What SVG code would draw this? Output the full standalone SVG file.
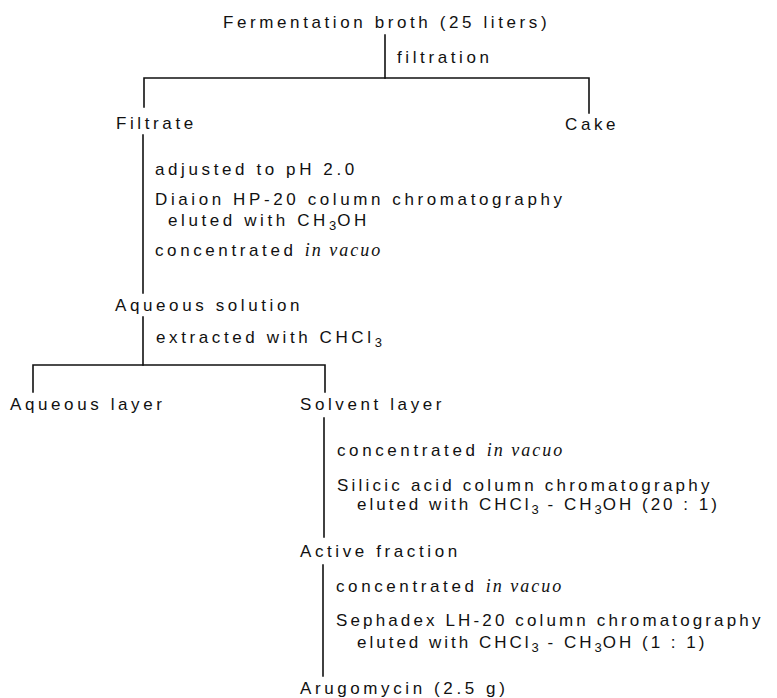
<svg xmlns="http://www.w3.org/2000/svg" width="777" height="698" viewBox="0 0 777 698">
<style>
  .t { font-family: "Liberation Sans", Arial, sans-serif; font-size: 17px; letter-spacing: 3.6px; fill: #111; }
  .nar { letter-spacing: 3px; }
  .it { font-family: "Liberation Serif", "Times New Roman", serif; font-style: italic; font-size: 18px; letter-spacing: 2px; }
  .sub { font-size: 13px; letter-spacing: 1px; }
  .ln { stroke: #111; stroke-width: 1.6; fill: none; stroke-linecap: square; }
</style>
<rect width="777" height="698" fill="#fff"/>

<g id="connectors">
  <path class="ln" d="M385 35 V78"/>
  <path class="ln" d="M144 107 V78 H589 V113"/>
  <path class="ln" d="M143 135 V293"/>
  <path class="ln" d="M143 317 V365"/>
  <path class="ln" d="M33 392 V365 H325 V392"/>
  <path class="ln" d="M324 418 V537"/>
  <path class="ln" d="M323 565 V676"/>
</g>

<g id="step-filtration"><text class="t" x="397" y="63">filtration</text></g>
<g id="step-filtrate">
  <text class="t" x="155" y="175">adjusted to pH 2.0</text>
  <text class="t" x="155" y="205">Diaion HP-20 column chromatography</text>
  <text class="t" x="168" y="226">eluted with CH<tspan class="sub" dy="4">3</tspan><tspan dy="-4">OH</tspan></text>
  <text class="t" x="155" y="256">concentrated <tspan class="it">in vacuo</tspan></text>
</g>
<g id="step-extraction"><text class="t" x="156" y="343">extracted with CHCl<tspan class="sub" dy="4">3</tspan></text></g>
<g id="step-solvent">
  <text class="t" x="337" y="456">concentrated <tspan class="it">in vacuo</tspan></text>
  <text class="t" x="337" y="491" textLength="376" lengthAdjust="spacing">Silicic acid column chromatography</text>
  <text class="t nar" x="357" y="510">eluted with CHCl<tspan class="sub" dy="4">3</tspan><tspan dy="-4"> - CH</tspan><tspan class="sub" dy="4">3</tspan><tspan dy="-4">OH (20 : 1)</tspan></text>
</g>
<g id="step-active">
  <text class="t" x="336" y="592">concentrated <tspan class="it">in vacuo</tspan></text>
  <text class="t" x="336" y="626" textLength="428" lengthAdjust="spacing">Sephadex LH-20 column chromatography</text>
  <text class="t nar" x="357" y="648">eluted with CHCl<tspan class="sub" dy="4">3</tspan><tspan dy="-4"> - CH</tspan><tspan class="sub" dy="4">3</tspan><tspan dy="-4">OH (1 : 1)</tspan></text>
</g>

<g id="node-broth"><text class="t" x="223" y="28">Fermentation broth (25 liters)</text></g>
<g id="node-filtrate"><text class="t" x="116" y="129">Filtrate</text></g>
<g id="node-cake"><text class="t" x="565" y="130">Cake</text></g>
<g id="node-aqueous-solution"><text class="t" x="115" y="311">Aqueous solution</text></g>
<g id="node-aqueous-layer"><text class="t" x="10" y="410">Aqueous layer</text></g>
<g id="node-solvent-layer"><text class="t" x="300" y="410">Solvent layer</text></g>
<g id="node-active-fraction"><text class="t" x="300" y="557">Active fraction</text></g>
<g id="node-arugomycin"><text class="t" x="300" y="694">Arugomycin (2.5 g)</text></g>
</svg>
